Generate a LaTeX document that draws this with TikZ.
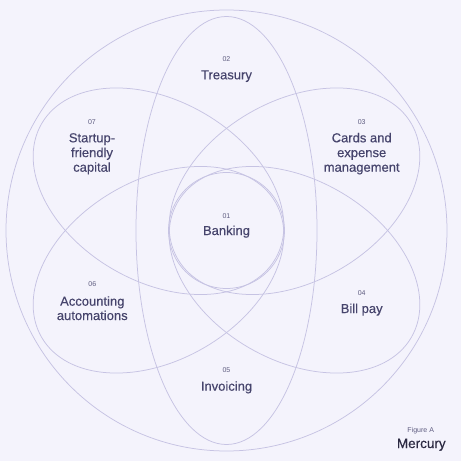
\documentclass[tikz,border=0pt]{standalone}
\usepackage{fontspec}
\setmainfont{Liberation Sans}
\newfontfamily\medfont{Liberation Sans}[FakeBold=0.35]
\definecolor{bg}{HTML}{F4F3FC}
\definecolor{ln}{HTML}{C6C3E3}
\definecolor{tx}{HTML}{46446C}
\definecolor{nm}{HTML}{5E5C80}
\definecolor{mk}{HTML}{2B2942}
\begin{document}
\begin{tikzpicture}[x=1pt,y=1pt,
  outline/.style={draw=ln, line width=0.75pt},
  lbl/.style={anchor=base, text=tx, font=\medfont\fontsize{13}{15}\selectfont, inner sep=0pt},
  num/.style={anchor=base, text=nm, font=\fontsize{7}{8}\selectfont, inner sep=0pt}]
\fill[bg] (-226.5,-230.5) rectangle (234.5,230.5);
\useasboundingbox (-226.5,-230.5) rectangle (234.5,230.5);
\coordinate (O) at (0,0);
\coordinate (c07) at (-68,39.25);
\coordinate (c03) at (68,39.25);
\coordinate (c06) at (-68,-39.25);
\coordinate (c04) at (68,-39.25);
% shapes
\draw[outline] (O) circle[radius=220.5];
\draw[outline] (O) ellipse[x radius=90.5, y radius=214];
\draw[outline, rotate around={-30:(c07)}] (c07) ellipse[x radius=135, y radius=90.3];
\draw[outline, rotate around={30:(c03)}] (c03) ellipse[x radius=135, y radius=90.3];
\draw[outline, rotate around={30:(c06)}] (c06) ellipse[x radius=135, y radius=90.3];
\draw[outline, rotate around={-30:(c04)}] (c04) ellipse[x radius=135, y radius=90.3];
\draw[outline] (O) circle[radius=58];
% labels
\node[num] (n02) at (0,169.2) {02};
\node[lbl] (t02) at (0,151.2) {Treasury};
\node[num] (n07) at (-134.5,106.2) {07};
\node[lbl] (t07a) at (-134.5,88.2) {Startup-};
\node[lbl] (t07b) at (-134.5,73.4) {friendly};
\node[lbl] (t07c) at (-134.5,58.8) {capital};
\node[num] (n03) at (135.2,106.2) {03};
\node[lbl] (t03a) at (135.2,88.2) {Cards and};
\node[lbl] (t03b) at (135.2,73.4) {expense};
\node[lbl] (t03c) at (135.2,58.8) {management};
\node[num] (n01) at (0,11.8) {01};
\node[lbl] (t01) at (0,-4.5) {Banking};
\node[num] (n06) at (-134.2,-55.8) {06};
\node[lbl] (t06a) at (-134.2,-75.2) {Accounting};
\node[lbl] (t06b) at (-134.2,-89.5) {automations};
\node[num] (n04) at (135.2,-64.8) {04};
\node[lbl] (t04) at (135.2,-82.5) {Bill pay};
\node[num] (n05) at (0,-141.5) {05};
\node[lbl] (t05) at (0,-160.2) {Invoicing};
\node[num] (fig) at (194.2,-202.2) {Figure A};
\node[lbl, text=mk, font=\medfont\fontsize{13.5}{15}\selectfont] (brand) at (194.8,-217.5) {Mercury};
\end{tikzpicture}
\end{document}
